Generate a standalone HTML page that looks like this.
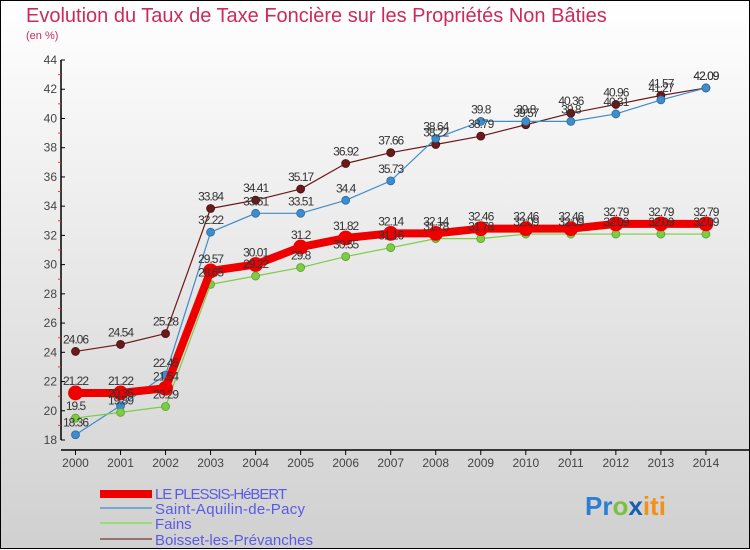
<!DOCTYPE html>
<html><head><meta charset="utf-8"><style>
body{margin:0;width:750px;height:550px;overflow:hidden}
svg{display:block;font-family:"Liberation Sans",sans-serif}
</style></head><body>
<svg id="chart" width="750" height="550">
<defs><linearGradient id="bg" x1="0" y1="0" x2="0" y2="1"><stop offset="0" stop-color="#ffffff"/><stop offset="1" stop-color="#d0d0d0"/></linearGradient></defs>
<rect x="0.5" y="0.5" width="749" height="548" fill="url(#bg)" stroke="#000"/>
<text x="26" y="22" font-size="20" fill="#cc2a5a">Evolution du Taux de Taxe Foncière sur les Propriétés Non Bâties</text>
<text x="26" y="39" font-size="11" fill="#cc2a5a">(en %)</text>
<g id="axes"></g><g id="series"></g><g id="labels"></g>
<g font-size="15" fill="#5a5ae6">
<rect x="100" y="490" width="52" height="8" fill="#ee0000"/>
<text x="155" y="499" textLength="132">LE PLESSIS-HéBERT</text>
<line x1="100" y1="508" x2="152" y2="508" stroke="#7aa6cc" stroke-width="2"/>
<text x="155" y="514" textLength="150">Saint-Aquilin-de-Pacy</text>
<line x1="100" y1="523" x2="152" y2="523" stroke="#99dd77" stroke-width="2"/>
<text x="155" y="529">Fains</text>
<line x1="100" y1="539" x2="152" y2="539" stroke="#997070" stroke-width="2"/>
<text x="155" y="545" textLength="158">Boisset-les-Prévanches</text>
</g>
<g font-size="26" font-weight="bold">
<text x="585" y="515"><tspan fill="#2a7fd4">Pr</tspan><tspan fill="#7ac142">o</tspan><tspan fill="#1560b0">x</tspan><tspan fill="#f39019">iti</tspan></text>
</g>
</svg>
<script>
const years=[2000,2001,2002,2003,2004,2005,2006,2007,2008,2009,2010,2011,2012,2013,2014];
const yTicks=[18,20,22,24,26,28,30,32,34,36,38,40,42,44];
const plessis=[21.22,21.22,21.54,29.57,30.01,31.2,31.82,32.14,32.14,32.46,32.46,32.46,32.79,32.79,32.79];
const aquilin=[18.36,20.35,22.45,32.22,33.51,33.51,34.4,35.73,38.64,39.8,39.8,39.8,40.31,41.27,42.09];
const fains=[19.5,19.89,20.29,28.65,29.22,29.8,30.55,31.16,31.78,31.78,32.09,32.09,32.09,32.09,32.09];
const boisset=[24.06,24.54,25.28,33.84,34.41,35.17,36.92,37.66,38.22,38.79,39.57,40.36,40.96,41.57,42.09];
const NS='http://www.w3.org/2000/svg';
const xS=i=>75.5+i*45.03;
const yS=v=>440-(v-18)*14.615;
function mk(tag,attrs,parent){const e=document.createElementNS(NS,tag);for(const k in attrs)e.setAttribute(k,attrs[k]);parent.appendChild(e);return e;}
const ax=document.getElementById('axes'),sg=document.getElementById('series'),lg=document.getElementById('labels');
let e=mk('line',{x1:61,y1:60,x2:61,y2:440,stroke:'#000','stroke-width':1.5},ax);


e=mk('line',{x1:61,y1:450,x2:750,y2:450,stroke:'#000','stroke-width':1.5},ax);


yTicks.forEach((t,i)=>{
 const y=yS(t);
 mk('line',{x1:61,y1:y,x2:65,y2:y,stroke:'#000'},ax);
 if(i<yTicks.length-1) mk('line',{x1:58,y1:yS(t+1),x2:61,y2:yS(t+1),stroke:'#e33'},ax);
 const tx=mk('text',{x:57,y:y+4,'font-size':12,fill:'#444','text-anchor':'end'},ax);
 tx.textContent=t;
 
 
});
years.forEach((yr,i)=>{
 const x=xS(i);
 mk('line',{x1:x,y1:450,x2:x,y2:455,stroke:'#000'},ax);
 const tx=mk('text',{x:x,y:467,'font-size':12,fill:'#444','text-anchor':'middle'},ax);
 tx.textContent=yr;
 
 
});
function series(vals,color,w,r,name,dark){
 const pts=vals.map((v,i)=>xS(i)+','+yS(v)).join(' ');
 const l=mk('polyline',{points:pts,fill:'none',stroke:color,'stroke-width':w,'stroke-linejoin':'round'},sg);
 
 
 vals.forEach((v,i)=>{
  const c=mk('circle',{cx:xS(i),cy:yS(v),r:r,fill:color,stroke:dark,'stroke-width':0.8},sg);
  
  
  const t=mk('text',{x:xS(i),y:yS(v)-8,'font-size':12,fill:'#333','text-anchor':'middle','letter-spacing':'-1'},lg);
  t.textContent=v;
  
  
 });
}
series(boisset,'#6b1a1a',1.2,4,'boisset','#4a0f0f');
series(aquilin,'#3d8ccc',1.2,4,'saint-aquilin','#2a6aa0');
series(fains,'#7ccc44',1.2,4,'fains','#5aa030');
series(plessis,'#ee0000',8,7,'le-plessis','#ee0000');
</script>
</body></html>
